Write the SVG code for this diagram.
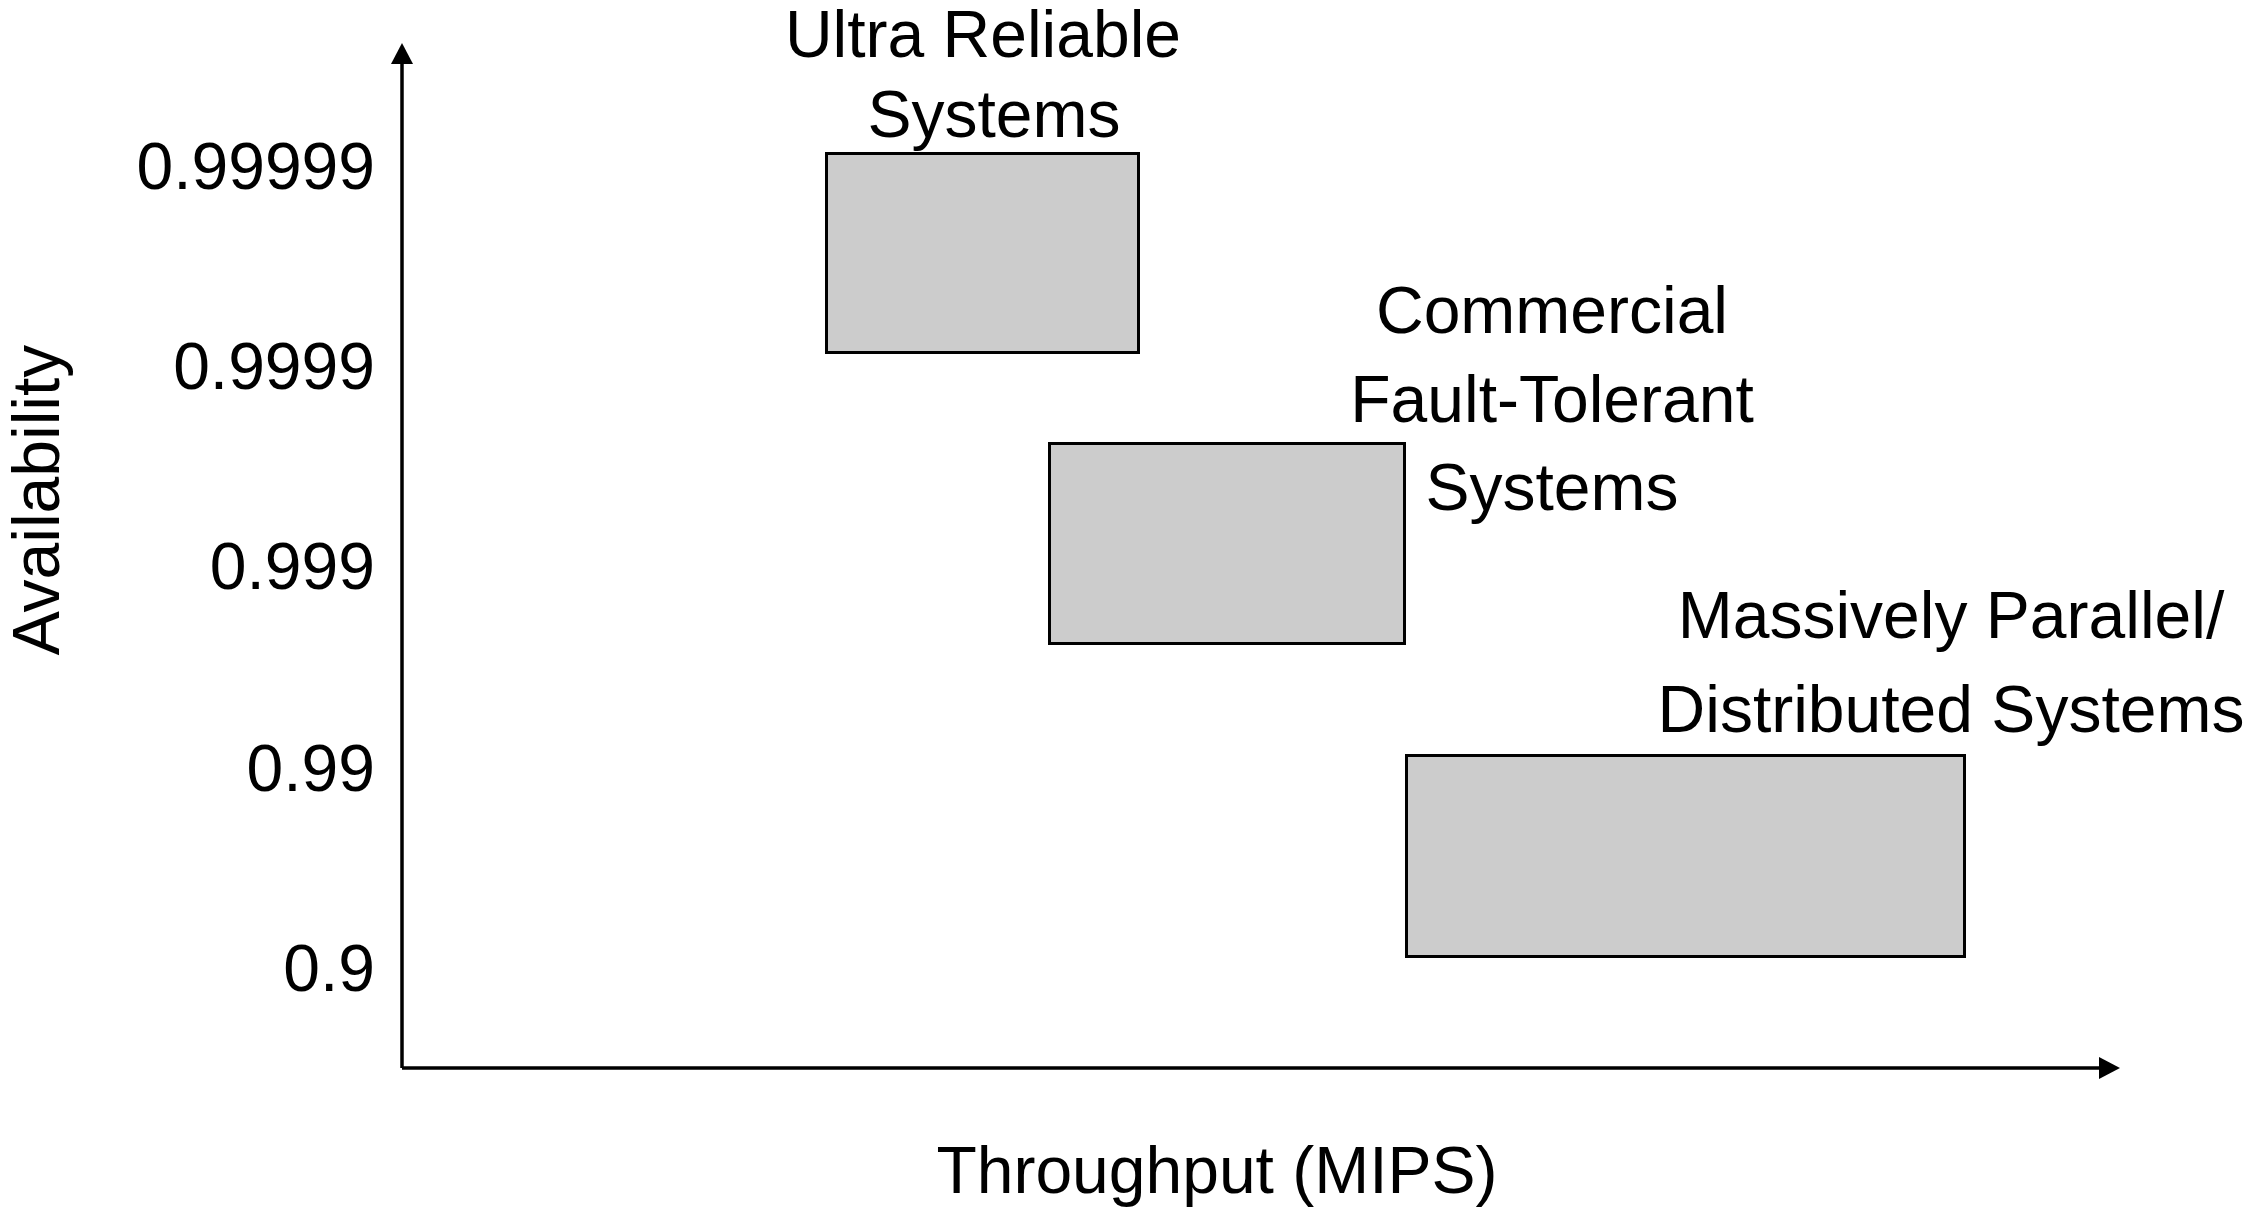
<svg xmlns="http://www.w3.org/2000/svg" width="2251" height="1211" viewBox="0 0 2251 1211">
  <style>
    .lbl { font-family: "Liberation Sans", Arial, sans-serif; font-size: 66px; fill: #000; }
    .box { fill: #cccccc; stroke: #000; stroke-width: 3; }
    .axis { stroke: #000; stroke-width: 3.5; fill: none; }
  </style>
  <defs>
    <marker id="arrow" viewBox="0 0 21 22" markerWidth="21" markerHeight="22" refX="0" refY="11" orient="auto" markerUnits="userSpaceOnUse">
      <path d="M0,0 L21,11 L0,22 z" fill="#000"/>
    </marker>
  </defs>
  <rect width="2251" height="1211" fill="#fff"/>

  <g id="connectors">
    <line class="axis" x1="402" y1="1068" x2="402" y2="64" marker-end="url(#arrow)"/>
    <line class="axis" x1="402" y1="1068" x2="2099" y2="1068" marker-end="url(#arrow)"/>
  </g>

  <g id="y-labels" class="lbl" text-anchor="end">
    <text x="375" y="189">0.99999</text>
    <text x="375" y="389">0.9999</text>
    <text x="375" y="589">0.999</text>
    <text x="375" y="791">0.99</text>
    <text x="375" y="991">0.9</text>
  </g>

  <g id="axis-titles" class="lbl">
    <text x="59" y="500" text-anchor="middle" transform="rotate(-90 59 500)">Availability</text>
    <text x="1217" y="1193" text-anchor="middle">Throughput (MIPS)</text>
  </g>

  <g id="ultra-reliable">
    <rect class="box" x="826.5" y="153.5" width="312" height="199"/>
    <text class="lbl" x="983" y="57" text-anchor="middle">Ultra Reliable</text>
    <text class="lbl" x="994" y="137" text-anchor="middle">Systems</text>
  </g>

  <g id="commercial-fault-tolerant">
    <rect class="box" x="1049.5" y="443.5" width="355" height="200"/>
    <text class="lbl" x="1552" y="333" text-anchor="middle">Commercial</text>
    <text class="lbl" x="1552" y="422" text-anchor="middle">Fault-Tolerant</text>
    <text class="lbl" x="1552" y="510" text-anchor="middle">Systems</text>
  </g>

  <g id="massively-parallel">
    <rect class="box" x="1406.5" y="755.5" width="558" height="201"/>
    <text class="lbl" x="1951" y="638" text-anchor="middle">Massively Parallel/</text>
    <text class="lbl" x="1951" y="732" text-anchor="middle">Distributed Systems</text>
  </g>
</svg>
